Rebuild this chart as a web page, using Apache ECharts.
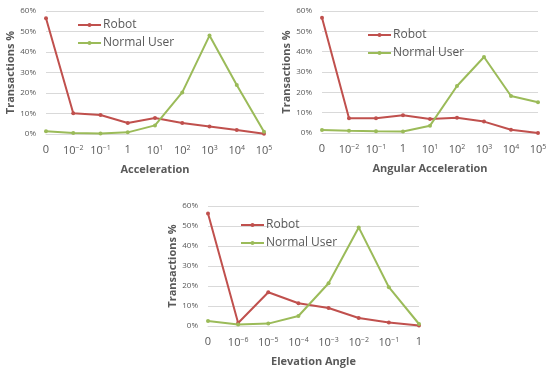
<!DOCTYPE html>
<html>
<head>
<meta charset="utf-8">
<script src="https://cdn.jsdelivr.net/npm/echarts@6/dist/echarts.min.js"></script>
<style>html,body{margin:0;padding:0;background:#fff}#c{width:550px;height:369px}</style>
</head>
<body>
<div id="c"></div>
<script>
const seriesNames = ['Robot', 'Normal User'];
const accCategories = ['0', '10^-2', '10^-1', '1', '10^1', '10^2', '10^3', '10^4', '10^5'];
const accRobot = [56.5, 10.1, 9.3, 5.4, 7.8, 5.4, 3.7, 2.0, 0.1];
const accNormal = [1.3, 0.5, 0.3, 0.8, 4.2, 20.3, 48.0, 23.9, 1.1];
const angCategories = ['0', '10^-2', '10^-1', '1', '10^1', '10^2', '10^3', '10^4', '10^5'];
const angRobot = [56.7, 7.2, 7.2, 8.7, 6.9, 7.5, 5.6, 1.6, 0.0];
const angNormal = [1.5, 1.1, 0.8, 0.7, 3.6, 23.1, 37.4, 18.2, 15.1];
const elevCategories = ['0', '10^-6', '10^-5', '10^-4', '10^-3', '10^-2', '10^-1', '1'];
const elevRobot = [56.3, 1.5, 16.9, 11.4, 9.0, 4.0, 1.7, 0.2];
const elevNormal = [2.5, 0.8, 1.2, 5.0, 21.4, 49.3, 19.4, 1.0];
const xTitles = ['Acceleration', 'Angular Acceleration', 'Elevation Angle'];
const yTitle = 'Transactions %';
const yTicks = [0, 10, 20, 30, 40, 50, 60];

const RED = '#C0504D', GREEN = '#9BBB59', TXT = '#595959', GRID = '#d9d9d9';
const FONT = 'Open Sans';

const grids = [
  {left: 46, top: 11, width: 218, height: 123},
  {left: 322, top: 11, width: 216, height: 122},
  {left: 208, top: 206, width: 211, height: 120}
];
const cats = [accCategories, angCategories, elevCategories];
const data = [[accRobot, accNormal], [angRobot, angNormal], [elevRobot, elevNormal]];
const legendPos = [{left: 77, top: 19}, {left: 367, top: 29}, {left: 240, top: 219}];
const yNameGaps = [30, 29, 28];

function supFmt(v) {
  if (v.indexOf('^') < 0) return v;
  const p = v.split('^');
  return p[0] + '{s|' + p[1].replace('-', '\u2212') + '}';
}

const option = {
  animation: false,
  backgroundColor: '#fff',
  textStyle: {fontFamily: FONT},
  grid: grids.map(g => Object.assign({containLabel: false}, g)),
  xAxis: grids.map((g, i) => ({
    type: 'category', gridIndex: i, data: cats[i], boundaryGap: false,
    axisLine: {show: true, lineStyle: {color: GRID}},
    axisTick: {show: false},
    axisLabel: {
      interval: 0, color: TXT, fontSize: 11, fontFamily: FONT, margin: 10, formatter: supFmt,
      rich: {s: {fontSize: 7, fontFamily: FONT, color: TXT, padding: [0, 0, 6, 0]}}
    },
    name: xTitles[i], nameLocation: 'middle', nameGap: 30,
    nameTextStyle: {color: TXT, fontSize: 11, fontWeight: 'bold', fontFamily: FONT}
  })),
  yAxis: grids.map((g, i) => ({
    type: 'value', gridIndex: i, min: yTicks[0], max: yTicks[yTicks.length - 1], interval: 10,
    axisLine: {show: false}, axisTick: {show: false},
    splitLine: {lineStyle: {color: GRID, width: 1}},
    axisLabel: {color: TXT, fontSize: 8, fontFamily: FONT, margin: 10, formatter: '{value}%'},
    name: yTitle, nameLocation: 'middle', nameGap: yNameGaps[i], nameRotate: 90,
    nameTextStyle: {color: TXT, fontSize: 11, fontWeight: 'bold', fontFamily: FONT}
  })),
  legend: grids.map((g, i) => ({
    orient: 'vertical', left: legendPos[i].left, top: legendPos[i].top, padding: 0,
    itemWidth: 23, itemHeight: 5, itemGap: 6,
    textStyle: {color: TXT, fontSize: 12, fontFamily: FONT, padding: [0, 0, 0, -3]},
    data: seriesNames.map(n => ({name: n})),
    selectedMode: false
  })),
  series: []
};

grids.forEach((g, i) => {
  [0, 1].forEach(k => {
    option.series.push({
      type: 'line', name: seriesNames[k], xAxisIndex: i, yAxisIndex: i,
      data: data[i][k], symbol: 'circle', symbolSize: 4, showSymbol: true,
      color: k === 0 ? RED : GREEN,
      lineStyle: {width: 2, color: k === 0 ? RED : GREEN},
      itemStyle: {color: k === 0 ? RED : GREEN}
    });
  });
});

const chart = echarts.init(document.getElementById('c'), null, {renderer: 'canvas'});
chart.setOption(option);
</script>
</body>
</html>
